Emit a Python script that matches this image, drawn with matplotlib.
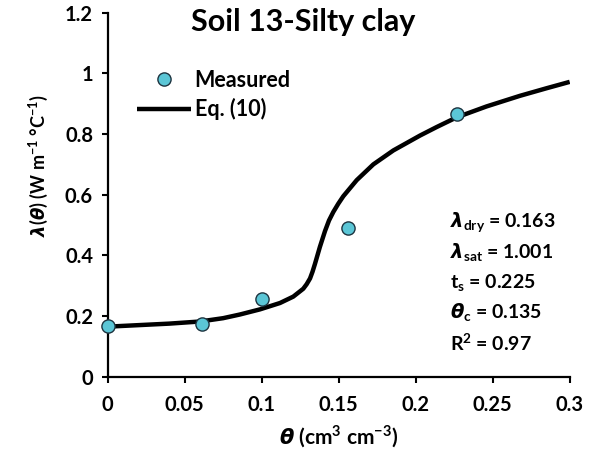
import matplotlib
matplotlib.use("Agg")
import matplotlib.pyplot as plt

# measured thermal conductivity, soil 13 (silty clay)
theta_meas = [0.0, 0.0614, 0.1002, 0.156, 0.2266]
lam_meas = [0.167, 0.175, 0.257, 0.489, 0.865]

# fitted curve, Eq. (10)
theta_fit = [0.0, 0.02, 0.04, 0.06, 0.075, 0.0858, 0.0989, 0.1119, 0.1205, 0.127,
             0.1292, 0.1314, 0.133, 0.1346, 0.1378, 0.1411, 0.1437, 0.1465, 0.1497,
             0.153, 0.1617, 0.1725, 0.1855, 0.2028, 0.2136, 0.2266, 0.246, 0.2677,
             0.285, 0.3]
lam_fit = [0.165, 0.170, 0.175, 0.182, 0.193, 0.205, 0.222, 0.243, 0.264, 0.290,
           0.305, 0.324, 0.346, 0.372, 0.428, 0.480, 0.515, 0.543, 0.570,
           0.595, 0.648, 0.700, 0.746, 0.795, 0.823, 0.855, 0.891, 0.926,
           0.951, 0.972]

# fit parameters shown on the plot
param_labels = [r"$\mathit{\lambda}_{\mathrm{dry}}$", r"$\mathit{\lambda}_{\mathrm{sat}}$",
                r"t$_{\mathrm{s}}$", r"$\mathit{\theta}_{\mathrm{c}}$", r"R$^{\mathrm{2}}$"]
param_values = ["0.163", "1.001", "0.225", "0.135", "0.97"]

x_ticks = [0, 0.05, 0.1, 0.15, 0.2, 0.25, 0.3]
x_ticklabels = ["0", "0.05", "0.1", "0.15", "0.2", "0.25", "0.3"]
y_ticks = [0, 0.2, 0.4, 0.6, 0.8, 1.0, 1.2]
y_ticklabels = ["0", "0.2", "0.4", "0.6", "0.8", "1", "1.2"]

plt.rcParams["font.family"] = ["Lato", "DejaVu Sans"]
plt.rcParams["font.weight"] = "bold"
plt.rcParams["mathtext.fontset"] = "custom"
plt.rcParams["mathtext.rm"] = "Lato:bold"
plt.rcParams["mathtext.bf"] = "Lato:bold"
plt.rcParams["mathtext.it"] = "DejaVu Sans:italic:bold"

fig = plt.figure(figsize=(5.93, 4.57), dpi=100)
ax = fig.add_axes([0.1816, 0.1757, 0.7791, 0.7965])

ax.plot(theta_fit, lam_fit, color="black", lw=3.2, solid_capstyle="butt",
        solid_joinstyle="round", label="Eq. (10)", zorder=2)
ax.plot(theta_meas, lam_meas, "o", ms=9.5, mfc="#5bc6d6", mec="#1d3440", mew=1.0,
        label="Measured", clip_on=False, zorder=3)

ax.set_xlim(0, 0.3)
ax.set_ylim(0, 1.2)
ax.set_xticks(x_ticks)
ax.set_xticklabels(x_ticklabels, fontweight="bold")
ax.set_yticks(y_ticks)
ax.set_yticklabels(y_ticklabels, fontweight="bold")

for side in ["top", "right"]:
    ax.spines[side].set_visible(False)
for side in ["left", "bottom"]:
    ax.spines[side].set_linewidth(1.6)
ax.tick_params(direction="out", length=4.5, width=1.5, labelsize=14.5, pad=6)
ax.tick_params(axis="x", pad=9)

ax.set_xlabel(r"$\mathit{\theta}$ (cm$^{\mathrm{3}}$ cm$^{\mathrm{-3}}$)", fontsize=15,
              fontweight="bold", labelpad=6)
ax.set_ylabel(r"$\mathit{\lambda}$($\mathit{\theta}$) (W m$^{\mathrm{-1}}$ °C$^{\mathrm{-1}}$)",
              fontsize=13, fontweight="bold")
ax.yaxis.set_label_coords(-0.125, 0.581)

ax.text(0.127, 1.17, "Soil 13-Silty clay", fontsize=22, fontweight="bold",
        ha="center", va="center")

handles, labels = ax.get_legend_handles_labels()
ax.legend(handles[::-1], labels[::-1], loc="upper left", bbox_to_anchor=(0.0645, 0.843),
          frameon=False, fontsize=15.5, handlelength=2.5, handletextpad=0.15,
          labelspacing=0.35, borderpad=0, borderaxespad=0)

# parameter block
for i, (lab, val) in enumerate(zip(param_labels, param_values)):
    ax.text(0.222, 0.506 - i * 0.0985, f"{lab} = {val}", fontsize=14,
            fontweight="bold", ha="left", va="center")

fig.savefig("out.png", dpi=100)
